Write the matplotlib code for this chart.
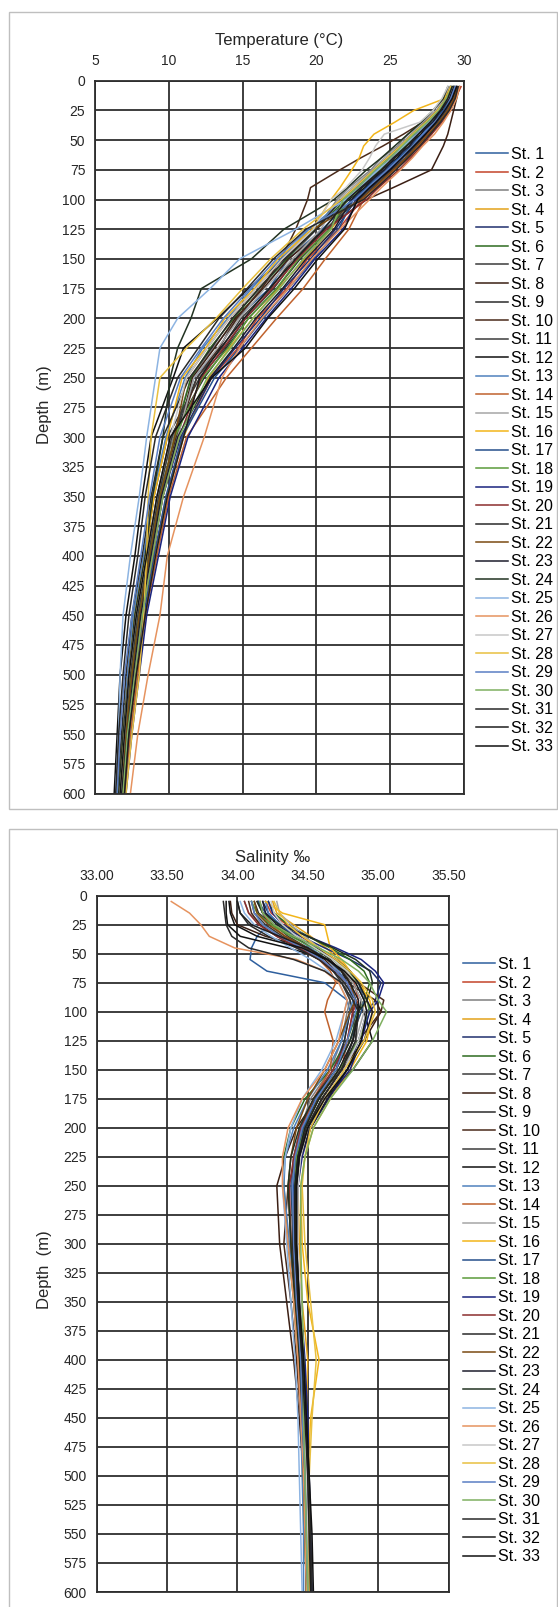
import matplotlib.pyplot as plt
from matplotlib.patches import Rectangle

plt.rcParams['font.family'] = ['Liberation Sans', 'DejaVu Sans']

# depth (m) of the sampled points, shared by every station
depth = [5, 15, 25, 35, 45, 55, 65, 75, 90, 100, 125, 150, 175, 200, 225, 250, 300, 350, 400, 450, 500, 550, 600]

stations = ["St. %d" % i for i in range(1, 34)]

colors = ["#2E5F9E", "#C4442A", "#7F7F7F", "#E3A21A", "#1F2F6E", "#2E6B1F", "#3A3A3A",
          "#3B1F14", "#2B2B2B", "#4A2A1A", "#3C3C3C", "#111111", "#4F81BD", "#C0622D",
          "#A6A6A6", "#F2B51A", "#264F8C", "#5B9B3A", "#1A237E", "#8B2E2E", "#2A2A2A",
          "#7A4A12", "#1C1C2C", "#223322", "#8DB4E2", "#E6935F", "#C8C8C8", "#E8C040",
          "#5A7FC4", "#7FB060", "#2A2A2A", "#1E1E1E", "#111111"]

temperature = [
    [29.5, 29.0, 28.8, 27.9, 27.3, 26.4, 25.8, 24.7, 23.6, 22.4, 20.4, 18.1, 16.8, 14.6, 13.4, 11.7, 10.5, 9.3, 8.8, 7.9, 7.5, 7.0, 6.8],
    [29.8, 29.4, 29.0, 28.3, 27.8, 26.9, 26.3, 25.3, 24.2, 23.1, 21.5, 19.4, 18.0, 16.0, 14.7, 12.9, 10.9, 9.9, 9.0, 8.4, 7.7, 7.3, 6.9],
    [29.0, 28.7, 27.9, 27.3, 26.2, 25.5, 24.4, 23.7, 22.2, 21.4, 20.0, 18.2, 16.2, 14.7, 13.0, 11.5, 10.3, 9.2, 8.6, 7.9, 7.4, 7.0, 6.7],
    [29.2, 29.1, 28.4, 27.9, 26.9, 26.3, 25.3, 24.6, 23.1, 22.5, 21.0, 19.2, 17.4, 15.7, 14.1, 12.7, 11.0, 9.9, 9.1, 8.4, 7.8, 7.3, 7.0],
    [29.4, 29.2, 28.8, 28.0, 27.4, 26.7, 25.8, 24.9, 23.7, 22.7, 21.3, 19.6, 17.8, 16.2, 14.5, 12.9, 10.8, 9.6, 8.9, 8.2, 7.7, 7.2, 6.9],
    [29.2, 28.9, 28.3, 27.7, 26.7, 26.0, 25.0, 24.3, 22.8, 22.0, 19.9, 18.0, 16.1, 14.4, 12.8, 11.5, 10.4, 9.5, 8.7, 8.0, 7.5, 7.1, 6.8],
    [29.4, 29.0, 28.6, 27.9, 27.1, 26.4, 25.5, 24.7, 23.3, 22.5, 20.7, 18.6, 17.1, 15.2, 13.8, 12.1, 9.9, 9.0, 8.4, 7.7, 7.3, 6.9, 6.6],
    [29.7, 29.5, 29.3, 29.1, 28.9, 28.6, 28.2, 27.8, 25.2, 23.4, 20.6, 18.1, 16.4, 14.5, 13.1, 11.6, 10.6, 9.5, 8.8, 8.1, 7.6, 7.2, 6.9],
    [29.1, 28.8, 28.3, 27.4, 26.7, 25.8, 25.0, 24.0, 22.8, 21.8, 20.9, 18.9, 17.3, 15.4, 13.9, 12.4, 10.1, 9.2, 8.5, 7.8, 7.3, 7.0, 6.7],
    [29.4, 29.0, 28.3, 27.2, 25.9, 24.5, 23.0, 21.6, 19.6, 19.4, 18.6, 17.6, 16.3, 14.6, 13.4, 11.9, 10.5, 9.4, 8.6, 8.0, 7.5, 7.1, 6.8],
    [29.5, 29.3, 28.8, 28.2, 27.5, 26.7, 26.0, 25.1, 23.8, 22.9, 20.6, 18.4, 16.9, 14.9, 13.6, 11.9, 10.2, 9.3, 8.6, 7.9, 7.4, 7.0, 6.7],
    [29.3, 28.9, 28.5, 27.7, 27.1, 26.1, 25.5, 24.4, 23.3, 22.2, 20.0, 17.8, 15.4, 13.3, 11.0, 10.3, 8.8, 8.2, 7.7, 7.1, 6.7, 6.5, 6.3],
    [29.2, 28.8, 28.2, 27.6, 26.6, 25.9, 24.9, 24.1, 22.7, 21.9, 19.5, 17.6, 15.6, 14.0, 12.3, 11.1, 9.8, 8.9, 8.3, 7.6, 7.2, 6.9, 6.6],
    [29.6, 29.3, 28.9, 28.4, 27.5, 26.9, 26.1, 25.3, 24.0, 23.2, 22.2, 20.6, 19.1, 17.3, 15.6, 13.9, 11.2, 10.0, 9.2, 8.4, 7.9, 7.4, 7.0],
    [29.0, 28.7, 28.1, 27.2, 26.4, 25.6, 24.6, 23.8, 22.4, 21.5, 20.3, 18.4, 16.5, 14.8, 13.3, 11.7, 10.6, 9.5, 8.8, 8.1, 7.6, 7.2, 6.8],
    [29.1, 28.7, 26.6, 25.3, 23.9, 23.2, 22.9, 22.4, 21.6, 21.0, 19.7, 17.4, 15.8, 13.8, 12.5, 10.9, 9.9, 9.0, 8.4, 7.7, 7.3, 6.9, 6.6],
    [29.4, 29.1, 28.6, 27.8, 27.2, 26.3, 25.6, 24.6, 23.4, 22.5, 21.5, 19.8, 18.1, 16.4, 14.8, 13.1, 10.9, 9.8, 9.0, 8.3, 7.7, 7.3, 6.9],
    [29.3, 28.9, 28.4, 27.7, 26.9, 26.0, 25.3, 24.3, 23.1, 22.1, 20.9, 18.8, 17.3, 15.4, 14.0, 12.3, 10.4, 9.4, 8.7, 8.0, 7.5, 7.1, 6.8],
    [29.5, 29.2, 28.7, 28.1, 27.4, 26.6, 25.8, 25.0, 23.6, 22.8, 21.8, 19.9, 18.3, 16.6, 15.0, 13.4, 11.3, 10.1, 9.3, 8.5, 8.0, 7.5, 7.1],
    [29.7, 29.4, 29.1, 28.5, 27.8, 27.1, 26.4, 25.6, 24.2, 23.4, 20.7, 18.7, 17.0, 15.2, 13.7, 12.2, 10.7, 9.6, 8.9, 8.2, 7.7, 7.2, 6.9],
    [29.1, 28.8, 28.2, 27.4, 26.5, 25.7, 24.8, 23.9, 22.6, 21.7, 20.0, 17.9, 16.1, 14.3, 12.9, 11.4, 9.6, 8.8, 8.2, 7.5, 7.1, 6.8, 6.5],
    [29.6, 29.3, 28.9, 28.3, 27.6, 26.8, 26.1, 25.2, 23.9, 23.0, 19.8, 17.7, 15.9, 14.1, 12.6, 11.2, 10.4, 9.4, 8.7, 8.0, 7.5, 7.1, 6.8],
    [29.3, 29.0, 28.4, 27.9, 26.9, 26.3, 25.3, 24.6, 23.1, 22.4, 21.2, 19.3, 17.7, 15.9, 14.4, 12.8, 10.6, 9.5, 8.8, 8.1, 7.6, 7.2, 6.8],
    [28.9, 28.6, 27.9, 27.1, 26.2, 25.3, 24.4, 23.4, 22.1, 21.2, 17.8, 15.6, 12.2, 11.5, 10.6, 10.1, 9.6, 8.9, 8.4, 7.7, 7.3, 6.9, 6.6],
    [29.2, 28.9, 28.3, 27.6, 26.8, 25.9, 25.1, 24.2, 22.9, 22.0, 18.6, 14.8, 12.8, 10.6, 9.4, 9.1, 8.5, 8.0, 7.4, 6.9, 6.7, 6.6, 6.4],
    [29.7, 29.5, 29.1, 28.6, 28.0, 27.2, 26.5, 25.7, 24.4, 23.6, 21.6, 19.7, 18.1, 16.3, 14.8, 13.6, 12.4, 11.0, 9.9, 9.4, 8.6, 7.9, 7.4],
    [28.9, 28.5, 27.9, 27.0, 24.6, 24.0, 23.6, 23.1, 22.0, 21.0, 19.8, 17.7, 15.9, 14.1, 12.6, 11.2, 10.1, 9.2, 8.5, 7.8, 7.3, 7.0, 6.7],
    [29.1, 28.8, 28.2, 27.4, 26.5, 25.7, 24.8, 23.9, 22.6, 21.7, 19.1, 16.9, 15.0, 13.2, 11.2, 9.4, 8.8, 8.6, 8.5, 8.3, 8.0, 7.5, 7.1],
    [29.4, 29.1, 28.7, 28.0, 27.2, 26.5, 25.7, 24.8, 23.5, 22.6, 19.4, 17.3, 15.5, 13.7, 12.2, 10.8, 9.4, 8.7, 8.1, 7.5, 7.0, 6.7, 6.5],
    [29.2, 28.8, 28.3, 27.5, 26.6, 25.8, 25.0, 24.0, 22.8, 21.8, 21.0, 19.1, 17.5, 15.7, 14.2, 12.6, 10.7, 9.6, 8.9, 8.2, 7.7, 7.2, 6.9],
    [29.6, 29.4, 29.0, 28.4, 27.7, 27.0, 26.2, 25.4, 24.1, 23.2, 19.3, 17.1, 15.3, 13.4, 12.0, 10.6, 9.1, 8.4, 7.9, 7.3, 6.9, 6.6, 6.4],
    [29.2, 28.9, 28.4, 27.7, 26.9, 26.1, 25.2, 24.4, 23.0, 22.1, 20.5, 18.6, 16.8, 15.1, 13.5, 12.1, 11.0, 9.9, 9.1, 8.4, 7.8, 7.3, 7.0],
    [29.5, 29.2, 28.7, 28.1, 27.4, 26.6, 25.8, 25.0, 23.6, 22.8, 21.9, 20.1, 18.5, 16.7, 15.2, 12.9, 10.1, 9.2, 8.5, 7.8, 7.3, 7.0, 6.7],
]

salinity = [
    [34.15, 34.18, 34.22, 34.14, 34.10, 34.09, 34.21, 34.62, 34.78, 34.80, 34.76, 34.68, 34.55, 34.45, 34.40, 34.38, 34.40, 34.42, 34.44, 34.46, 34.47, 34.49, 34.50],
    [34.20, 34.24, 34.35, 34.45, 34.58, 34.70, 34.78, 34.83, 34.86, 34.82, 34.78, 34.74, 34.60, 34.50, 34.44, 34.41, 34.40, 34.43, 34.46, 34.47, 34.49, 34.50, 34.51],
    [34.05, 34.08, 34.18, 34.30, 34.42, 34.58, 34.70, 34.76, 34.80, 34.78, 34.74, 34.66, 34.52, 34.45, 34.40, 34.39, 34.41, 34.43, 34.45, 34.46, 34.48, 34.49, 34.49],
    [34.25, 34.28, 34.40, 34.52, 34.63, 34.72, 34.80, 34.88, 34.92, 34.88, 34.80, 34.70, 34.57, 34.48, 34.44, 34.43, 34.44, 34.46, 34.50, 34.49, 34.50, 34.51, 34.51],
    [34.18, 34.22, 34.30, 34.45, 34.62, 34.80, 34.95, 35.02, 34.98, 34.92, 34.86, 34.78, 34.65, 34.52, 34.45, 34.42, 34.42, 34.44, 34.47, 34.48, 34.50, 34.51, 34.52],
    [34.22, 34.26, 34.36, 34.50, 34.66, 34.80, 34.90, 34.94, 34.90, 34.85, 34.78, 34.66, 34.48, 34.38, 34.33, 34.33, 34.36, 34.40, 34.43, 34.45, 34.47, 34.48, 34.49],
    [34.10, 34.12, 34.20, 34.32, 34.48, 34.60, 34.68, 34.74, 34.80, 34.82, 34.84, 34.76, 34.62, 34.50, 34.43, 34.40, 34.39, 34.41, 34.44, 34.46, 34.48, 34.50, 34.51],
    [33.95, 33.96, 34.00, 34.20, 34.50, 34.62, 34.70, 34.78, 34.98, 35.02, 34.90, 34.74, 34.56, 34.42, 34.34, 34.28, 34.30, 34.35, 34.40, 34.44, 34.47, 34.49, 34.50],
    [34.12, 34.15, 34.25, 34.40, 34.55, 34.66, 34.74, 34.80, 34.84, 34.80, 34.76, 34.70, 34.56, 34.46, 34.41, 34.39, 34.39, 34.42, 34.45, 34.46, 34.48, 34.49, 34.50],
    [34.08, 34.10, 34.16, 34.28, 34.44, 34.58, 34.68, 34.86, 35.04, 35.02, 34.86, 34.72, 34.57, 34.47, 34.42, 34.36, 34.33, 34.38, 34.42, 34.45, 34.47, 34.49, 34.50],
    [34.14, 34.18, 34.26, 34.36, 34.50, 34.64, 34.75, 34.82, 34.88, 34.86, 34.82, 34.74, 34.60, 34.50, 34.44, 34.42, 34.41, 34.43, 34.46, 34.47, 34.49, 34.50, 34.51],
    [33.92, 33.92, 33.93, 34.02, 34.36, 34.64, 34.74, 34.78, 34.82, 34.90, 34.96, 34.82, 34.62, 34.50, 34.44, 34.41, 34.42, 34.44, 34.47, 34.48, 34.50, 34.51, 34.52],
    [34.20, 34.22, 34.30, 34.40, 34.52, 34.64, 34.72, 34.78, 34.82, 34.80, 34.74, 34.64, 34.50, 34.40, 34.34, 34.33, 34.37, 34.41, 34.44, 34.45, 34.46, 34.47, 34.47],
    [34.16, 34.18, 34.24, 34.34, 34.46, 34.58, 34.66, 34.70, 34.64, 34.62, 34.68, 34.66, 34.54, 34.46, 34.42, 34.40, 34.41, 34.43, 34.45, 34.47, 34.49, 34.50, 34.51],
    [34.28, 34.30, 34.38, 34.48, 34.58, 34.68, 34.76, 34.82, 34.88, 34.90, 34.84, 34.76, 34.62, 34.50, 34.44, 34.42, 34.42, 34.44, 34.46, 34.47, 34.49, 34.50, 34.50],
    [34.20, 34.32, 34.62, 34.64, 34.66, 34.74, 34.80, 34.86, 34.94, 34.96, 34.92, 34.80, 34.66, 34.54, 34.48, 34.45, 34.46, 34.50, 34.58, 34.52, 34.50, 34.51, 34.52],
    [34.15, 34.20, 34.30, 34.42, 34.56, 34.70, 34.80, 34.86, 34.90, 34.88, 34.80, 34.70, 34.56, 34.47, 34.42, 34.40, 34.41, 34.43, 34.46, 34.48, 34.49, 34.50, 34.51],
    [34.10, 34.14, 34.24, 34.38, 34.54, 34.68, 34.78, 34.86, 34.92, 34.94, 34.86, 34.72, 34.58, 34.48, 34.42, 34.41, 34.42, 34.44, 34.45, 34.46, 34.47, 34.48, 34.49],
    [34.22, 34.25, 34.32, 34.50, 34.70, 34.88, 34.98, 35.04, 35.00, 34.94, 34.88, 34.80, 34.64, 34.52, 34.46, 34.43, 34.42, 34.45, 34.48, 34.50, 34.51, 34.52, 34.53],
    [34.05, 34.08, 34.15, 34.28, 34.44, 34.58, 34.70, 34.78, 34.84, 34.82, 34.78, 34.68, 34.54, 34.45, 34.40, 34.37, 34.38, 34.41, 34.44, 34.46, 34.48, 34.49, 34.50],
    [34.00, 34.02, 34.08, 34.22, 34.42, 34.58, 34.68, 34.76, 34.84, 34.86, 34.82, 34.74, 34.60, 34.49, 34.43, 34.41, 34.40, 34.42, 34.45, 34.47, 34.49, 34.50, 34.51],
    [34.12, 34.14, 34.22, 34.34, 34.50, 34.64, 34.74, 34.80, 34.84, 34.80, 34.72, 34.62, 34.50, 34.42, 34.38, 34.36, 34.38, 34.41, 34.44, 34.46, 34.48, 34.49, 34.50],
    [34.18, 34.20, 34.28, 34.40, 34.56, 34.70, 34.80, 34.86, 34.92, 34.96, 34.90, 34.78, 34.64, 34.52, 34.45, 34.42, 34.42, 34.44, 34.47, 34.49, 34.50, 34.51, 34.52],
    [34.14, 34.18, 34.30, 34.50, 34.68, 34.84, 34.94, 34.96, 34.92, 34.86, 34.80, 34.70, 34.54, 34.44, 34.38, 34.36, 34.38, 34.41, 34.44, 34.46, 34.47, 34.48, 34.49],
    [34.02, 34.05, 34.12, 34.24, 34.38, 34.52, 34.64, 34.72, 34.78, 34.76, 34.70, 34.60, 34.46, 34.38, 34.34, 34.32, 34.35, 34.38, 34.41, 34.43, 34.44, 34.45, 34.46],
    [33.53, 33.66, 33.74, 33.80, 33.98, 34.42, 34.62, 34.72, 34.78, 34.76, 34.72, 34.62, 34.46, 34.36, 34.32, 34.32, 34.36, 34.40, 34.43, 34.45, 34.47, 34.48, 34.49],
    [34.24, 34.26, 34.32, 34.42, 34.55, 34.68, 34.78, 34.84, 34.90, 34.92, 34.86, 34.76, 34.62, 34.50, 34.45, 34.43, 34.43, 34.45, 34.47, 34.48, 34.49, 34.50, 34.50],
    [34.26, 34.30, 34.36, 34.46, 34.58, 34.70, 34.80, 34.88, 34.96, 34.98, 34.90, 34.76, 34.62, 34.52, 34.48, 34.46, 34.48, 34.52, 34.56, 34.53, 34.51, 34.51, 34.51],
    [34.10, 34.12, 34.18, 34.30, 34.46, 34.60, 34.70, 34.78, 34.84, 34.84, 34.78, 34.70, 34.56, 34.46, 34.41, 34.39, 34.40, 34.42, 34.45, 34.46, 34.48, 34.49, 34.50],
    [34.16, 34.18, 34.26, 34.40, 34.58, 34.74, 34.86, 34.94, 35.00, 35.06, 34.96, 34.82, 34.66, 34.54, 34.48, 34.45, 34.45, 34.46, 34.47, 34.47, 34.48, 34.49, 34.50],
    [33.90, 33.91, 33.92, 33.96, 34.08, 34.40, 34.62, 34.74, 34.82, 34.86, 34.84, 34.74, 34.60, 34.50, 34.44, 34.42, 34.42, 34.44, 34.47, 34.49, 34.51, 34.52, 34.53],
    [34.00, 34.02, 34.10, 34.30, 34.50, 34.64, 34.74, 34.80, 34.86, 34.86, 34.82, 34.72, 34.58, 34.48, 34.43, 34.41, 34.41, 34.43, 34.46, 34.48, 34.50, 34.51, 34.52],
    [33.94, 33.95, 33.98, 34.14, 34.46, 34.64, 34.76, 34.84, 34.90, 34.92, 34.88, 34.78, 34.62, 34.50, 34.44, 34.42, 34.42, 34.44, 34.47, 34.49, 34.51, 34.53, 34.54],
]

temp_ticks = [5, 10, 15, 20, 25, 30]
sal_ticks = [33.0, 33.5, 34.0, 34.5, 35.0, 35.5]
depth_ticks = list(range(0, 601, 25))

W, H = 558, 1607
fig = plt.figure(figsize=(W / 100, H / 100), dpi=100)

# light grey frames around the two charts
for y0, y1 in [(12, 809), (829, 1620)]:
    fig.patches.append(Rectangle((9 / W, 1 - y1 / H), 548 / W, (y1 - y0) / H,
                                 transform=fig.transFigure, fill=False,
                                 edgecolor="#BFBFBF", lw=1.0))


def profile_axes(box, values, xticks, fmt, title, title_y, ylabel_y, leg_x, leg_y):
    x0, y0, x1, y1 = box
    ax = fig.add_axes([x0 / W, 1 - y1 / H, (x1 - x0) / W, (y1 - y0) / H])
    for name, col, vals in zip(stations, colors, values):
        ax.plot(vals, depth, color=col, lw=1.1, label=name)
    ax.set_xlim(xticks[0], xticks[-1])
    ax.set_ylim(600, 0)
    ax.set_xticks(xticks)
    ax.set_xticklabels([fmt % t for t in xticks])
    ax.set_yticks(depth_ticks)
    ax.xaxis.tick_top()
    ax.tick_params(length=0, labelsize=10, colors="#262626", pad=7)
    ax.tick_params(axis="x", pad=9)
    ax.grid(True, color="#2E2E2E", lw=1.3)
    for s in ax.spines.values():
        s.set_color("#2E2E2E")
        s.set_linewidth(1.3)
    fig.text(((x0 + x1) / 2) / W, 1 - title_y / H, title, ha="center", va="center",
             fontsize=12, color="#262626")
    fig.text(44 / W, 1 - ylabel_y / H, "Depth  (m)", rotation=90, ha="center",
             va="center", fontsize=12, color="#262626")
    ax.legend(loc="upper left", bbox_to_anchor=(leg_x / W, 1 - leg_y / H),
              bbox_transform=fig.transFigure, frameon=False, fontsize=11.5,
              handlelength=2.0, handletextpad=0.2, labelspacing=0.22,
              borderpad=0, borderaxespad=0)
    return ax


profile_axes((95, 80.7, 464, 793.5), temperature, temp_ticks, "%d",
             "Temperature (°C)", 40, 405, 476, 147)
profile_axes((96.7, 895.7, 448.5, 1592), salinity, sal_ticks, "%.2f",
             "Salinity ‰", 857, 1270, 463, 957)

fig.savefig("out.png", dpi=100)
